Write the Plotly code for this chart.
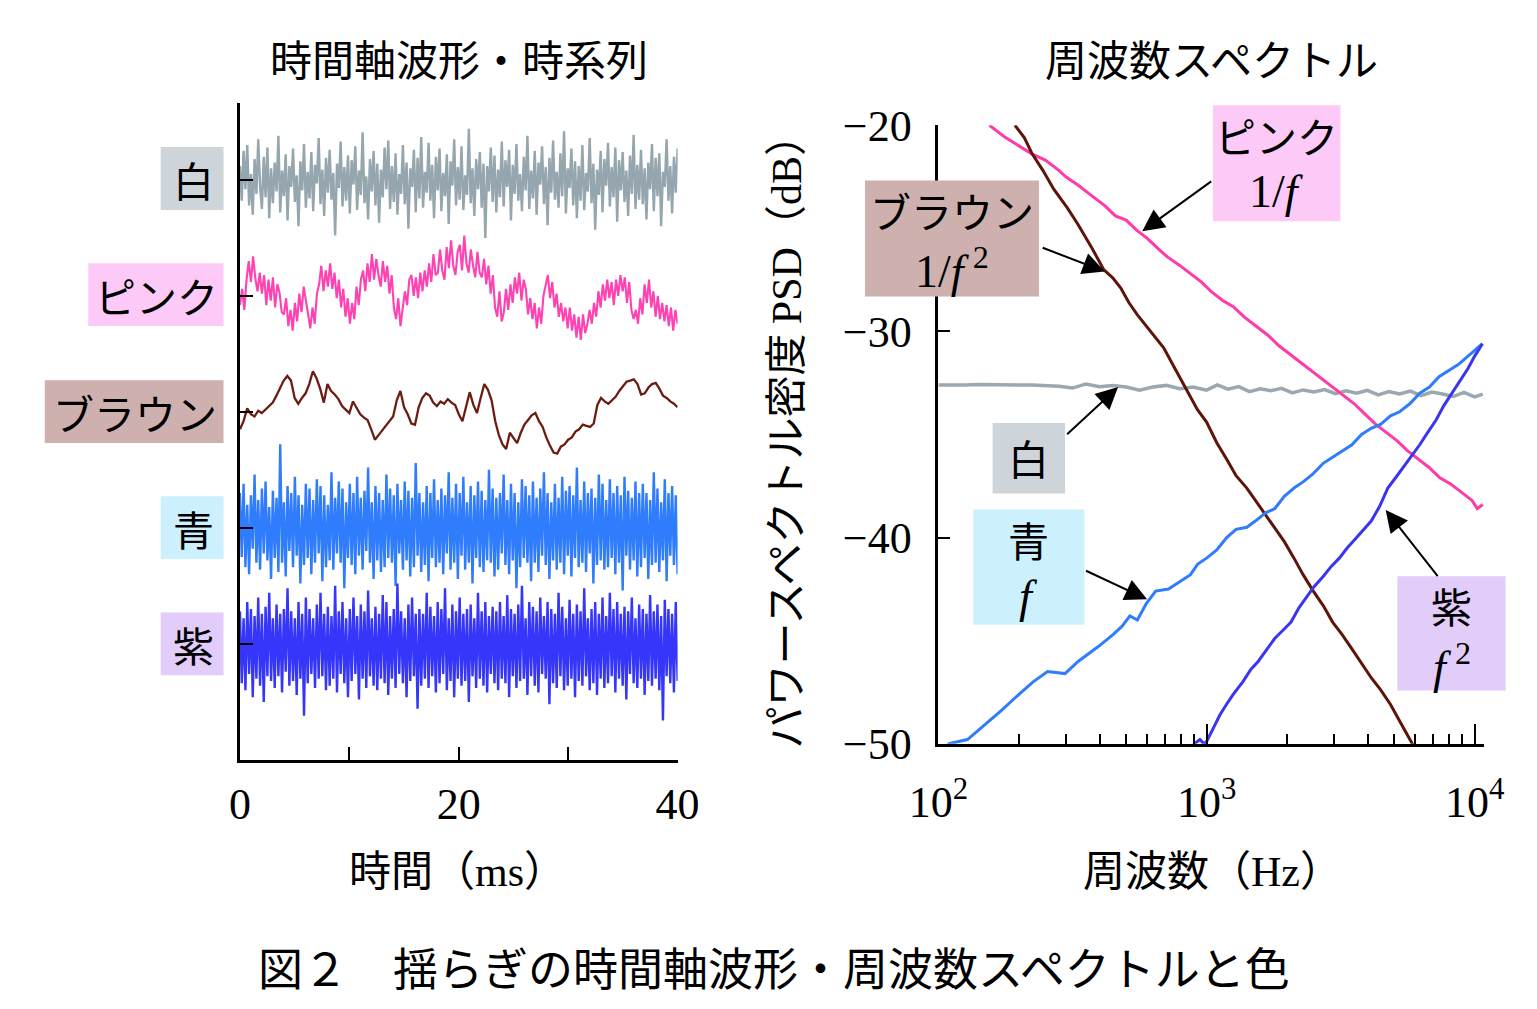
import numpy as np
import plotly.graph_objects as go

W, H = 1537, 1009


def px(x):
    return x / W


def py(y):
    return 1 - y / H


# ------------------------------------------------------------------ data
# left panel: stacked waveforms (values in hundredths of one row spacing)
names = ["白", "ピンク", "ブラウン", "青", "紫"]
row_level = [4, 3, 2, 1, 0]
t_range_ms = [0, 40]

white_wave = [
    12, -18, 25, -8, 30, -22, 5, -30, 18, -12, 35, -5, -25, 20, -15, 28, -33, 10, -20, 15,
    -10, 38, -28, 8, -14, 22, -35, 12, -6, 27, -19, 4, -40, 16, -9, 31, -24, 7, -16, 24,
    -27, 13, -3, 36, -21, 9, -31, 19, -11, 26, -17, 6, -48, 14, -7, 33, -23, 11, -18, 21,
    -29, 17, -4, 29, -26, 8, -13, 41, -20, 3, -34, 18, -10, 25, -22, 14, -37, 9, -15, 28,
    -8, 34, -25, 12, -19, 23, -30, 5, -12, 30, -21, 15, -42, 10, -6, 26, -28, 19, -16, 37,
    -24, 7, -11, 32, -18, 13, -33, 20, -9, 27, -27, 6, -14, 22, -38, 16, -5, 35, -22, 11,
    -17, 29, -26, 4, -13, 44, -20, 10, -31, 18, -8, 24, -24, 14, -50, 12, -10, 28, -19, 21,
    -28, 9, -15, 33, -23, 17, -6, 26, -35, 13, -12, 31, -18, 5, -27, 20, -9, 38, -25, 8,
    -16, 25, -30, 15, -4, 29, -21, 11, -39, 19, -11, 34, -17, 7, -24, 23, -14, 42, -29, 10,
    -7, 27, -22, 16, -33, 12, -18, 30, -26, 6, -10, 36, -20, 14, -43, 9, -13, 25, -28, 18,
    -5, 32, -23, 11, -15, 28, -36, 17, -9, 24, -19, 8, -31, 21, -12, 39, -25, 13, -17, 26,
    -21, 10, -34, 15, -8, 31, -27, 19, -14, 23, -40, 7, -6, 35, -18, 12, -29, 20, -11, 27,
]

pink_wave = [
    -8, 6, -12, 14, 30, 12, 34, 15, 4, 20,
    2, 18, -8, 14, -4, 16, -10, 10, 3, -14,
    -16, -2, -26, -12, -30, -6, -22, 2, -14, 8,
    -4, -18, -28, -10, -24, 2, 10, 26, 4, 22,
    8, 28, 6, 20, -2, 14, -10, 6, -18, -2,
    -24, -6, -20, 8, -8, 14, 22, 4, 28, 12,
    36, 14, 32, 18, 8, 30, 12, 26, 2, 18,
    -10, -20, -2, -26, -12, 4, -8, 14, 18, 0,
    16, -2, 20, 4, 22, 8, 28, 12, 36, 18,
    20, 40, 22, 14, 42, 24, 48, 26, 18, 38,
    44, 22, 52, 28, 20, 40, 26, 16, 38, 20,
    16, 32, 10, 26, 2, 18, -10, -18, 4, -22,
    -14, 6, -12, 10, -6, 16, 2, 20, -4, 14,
    6, -16, -2, -20, -6, -28, -10, -24, 0, 10,
    18, -2, 12, -10, 2, -18, -6, -22, -10, -28,
    -10, -30, -16, -36, -18, -38, -16, -32, -24, -12,
    -24, -6, -18, 4, -10, 10, -4, 14, -2, 12,
    -8, 14, 0, 18, 4, 16, -6, 12, -12, -20,
    -12, -24, -2, -16, 10, -6, 14, -10, 4, -18,
    0, -20, -6, -22, -8, -26, -10, -30, -12, -24,
]

brown_wave = [
    -15, -8, 3, -2, -4, 1, -1, 2, 5, 8, 14, 21, 27, 31, 27, 12, 7, 12, 16, 24,
    35, 29, 20, 8, 24, 18, 15, 11, 5, 2, -1, 9, 3, -2, -5, -7, -15, -24, -20, -16,
    -12, -8, -4, 10, 18, 4, -2, -10, -11, 4, 12, 16, 14, 8, 5, 9, 7, 11, 8, 6,
    -2, -8, 4, 17, 6, -1, 12, 24, 19, 10, -8, -20, -28, -32, -18, -23, -27, -18, -11, -7,
    -3, -1, -8, -13, -22, -29, -35, -36, -30, -28, -24, -22, -17, -15, -11, -12, -13, -10, 6, 12,
    9, 7, 10, 13, 18, 22, 26, 27, 28, 24, 15, 16, 21, 24, 25, 20, 14, 12, 9, 7,
    4,
]

blue_wave = [
    30, -25, 38, -34, 20, -40, 28, -18, 46, -30, 24, -36, 34, -22, 40, -28, 18, -44, 32, -26,
    26, -38, 72, -30, 22, -42, 36, -20, 30, -34, 44, -24, 28, -48, 20, -32, 38, -26, 34, -40,
    24, -30, 42, -22, 36, -46, 28, -34, 20, -28, 48, -36, 26, -22, 40, -30, 34, -52, 22, -26,
    38, -32, 30, -40, 44, -24, 26, -36, 32, -20, 52, -30, 22, -44, 36, -28, 30, -38, 24, -34,
    46, -26, 34, -30, 28, -50, 38, -22, 24, -36, 40, -28, 32, -42, 26, -34, 56, -24, 30, -38,
    22, -32, 36, -46, 30, -26, 42, -34, 24, -30, 34, -40, 28, -22, 48, -36, 26, -30, 38, -44,
    30, -24, 44, -36, 22, -30, 36, -48, 28, -26, 40, -34, 32, -38, 24, -28, 50, -30, 34, -42,
    26, -36, 30, -22, 46, -32, 24, -40, 38, -28, 30, -52, 22, -34, 42, -26, 36, -30, 28, -46,
    40, -30, 26, -38, 34, -24, 48, -32, 30, -44, 22, -28, 38, -36, 26, -30, 44, -40, 32, -24,
    36, -42, 28, -26, 52, -34, 24, -30, 40, -38, 30, -22, 34, -48, 26, -32, 46, -28, 38, -36,
    24, -34, 42, -26, 30, -40, 36, -30, 28, -54, 44, -24, 32, -36, 26, -28, 40, -42, 30, -34,
    38, -26, 30, -44, 24, -32, 48, -30, 34, -38, 22, -28, 42, -46, 30, -24, 36, -32, 28, -40,
]

purple_wave = [
    28, -34, 22, -40, 36, -26, 30, -46, 24, -30, 40, -36, 26, -50, 32, -28, 44, -32, 22, -38,
    34, -28, 26, -42, 30, -24, 48, -36, 28, -32, 22, -44, 36, -30, 26, -62, 40, -34, 30, -26,
    22, -38, 34, -30, 44, -28, 26, -40, 32, -36, 24, -30, 50, -42, 28, -26, 36, -34, 22, -46,
    30, -32, 40, -26, 24, -48, 34, -30, 28, -38, 46, -28, 22, -36, 32, -40, 26, -30, 42, -34,
    36, -44, 24, -30, 30, -38, 52, -26, 28, -34, 22, -46, 34, -32, 40, -28, 26, -56, 30, -36,
    26, -30, 44, -38, 32, -28, 24, -42, 36, -34, 30, -26, 48, -40, 22, -32, 34, -46, 28, -30,
    40, -36, 26, -32, 30, -50, 34, -28, 22, -38, 44, -30, 28, -36, 36, -42, 24, -26, 32, -34,
    28, -40, 36, -30, 24, -34, 42, -46, 30, -28, 26, -38, 34, -32, 50, -30, 22, -44, 36, -28,
    32, -36, 28, -42, 40, -26, 24, -30, 36, -52, 30, -34, 26, -38, 44, -28, 32, -40, 22, -36,
    38, -30, 26, -46, 34, -32, 28, -36, 48, -28, 22, -40, 30, -34, 36, -44, 26, -30, 40, -38,
    24, -34, 44, -28, 30, -42, 36, -30, 26, -36, 32, -48, 28, -26, 40, -34, 22, -38, 34, -30,
    30, -44, 26, -32, 42, -36, 28, -30, 34, -40, 24, -66, 38, -28, 30, -34, 26, -42, 36, -32,
]

waves = [white_wave, pink_wave, brown_wave, blue_wave, purple_wave]
wave_colors = ["#95a6af", "#ff42b2", "#6b1d12", "#2f7dfc", "#3636fa"]
wave_widths = [2.4, 2.1, 2.3, 2.4, 2.4]

# right panel: spectra (x = log10 of frequency in Hz, y = PSD in dB)
white_lf = [2.00, 2.05, 2.10, 2.15, 2.20, 2.25, 2.30, 2.35, 2.40, 2.45, 2.50, 2.55, 2.60,
            2.65, 2.70, 2.75, 2.80, 2.85, 2.90, 2.95, 3.00, 3.04, 3.08, 3.12, 3.16, 3.20,
            3.24, 3.28, 3.32, 3.36, 3.40, 3.44, 3.48, 3.52, 3.56, 3.60, 3.64, 3.68, 3.72,
            3.76, 3.80, 3.84, 3.88, 3.92, 3.96, 4.00, 4.03]
white_db = [-32.6, -32.62, -32.6, -32.58, -32.6, -32.62, -32.6, -32.6, -32.62, -32.66, -32.75,
            -32.55, -32.68, -32.62, -32.7, -32.85, -32.7, -32.62, -32.78, -32.7, -32.85, -32.6,
            -32.8, -32.68, -32.92, -32.78, -32.88, -32.76, -32.98, -32.84, -32.94, -32.82, -33.02,
            -32.88, -33.0, -32.86, -33.08, -32.92, -33.04, -32.9, -33.12, -32.94, -33.04, -33.16,
            -32.96, -33.18, -33.04]

pink_lf = [2.19, 2.25, 2.30, 2.35, 2.40, 2.45, 2.475, 2.52, 2.57, 2.62, 2.66, 2.70, 2.74,
           2.78, 2.82, 2.855, 2.90, 2.94, 2.98, 3.02, 3.06, 3.10, 3.14, 3.19, 3.23, 3.27,
           3.31, 3.35, 3.39, 3.43, 3.47, 3.51, 3.55, 3.59, 3.63, 3.67, 3.71, 3.75, 3.79,
           3.83, 3.87, 3.91, 3.95, 3.99, 4.01, 4.03]
pink_db = [-20.0, -20.6, -21.0, -21.4, -21.7, -22.2, -22.5, -22.9, -23.4, -23.9, -24.4,
           -24.6, -25.1, -25.5, -26.0, -26.4, -26.8, -27.2, -27.6, -28.1, -28.5, -28.8,
           -29.3, -29.8, -30.2, -30.7, -31.1, -31.5, -31.9, -32.3, -32.7, -33.1, -33.5,
           -34.0, -34.5, -34.9, -35.3, -35.8, -36.2, -36.6, -37.1, -37.4, -37.8, -38.2,
           -38.6, -38.4]

brown_lf = [2.285, 2.32, 2.35, 2.39, 2.43, 2.48, 2.52, 2.57, 2.616, 2.65, 2.68, 2.71, 2.742,
            2.79, 2.84, 2.886, 2.933, 2.966, 3.0, 3.038, 3.075, 3.11, 3.15, 3.182, 3.22,
            3.254, 3.29, 3.326, 3.36, 3.398, 3.435, 3.47, 3.505, 3.542, 3.578, 3.614, 3.65,
            3.686, 3.72, 3.759, 3.78]
brown_db = [-20.0, -20.6, -21.4, -22.2, -23.1, -24.0, -24.8, -25.9, -27.0, -27.4, -27.9,
            -28.6, -29.2, -30.0, -30.8, -31.9, -33.0, -33.8, -34.4, -35.4, -36.2, -37.0,
            -37.6, -38.2, -38.9, -39.5, -40.2, -41.0, -41.8, -42.6, -43.3, -44.1, -44.7,
            -45.4, -46.1, -46.8, -47.4, -48.1, -48.9, -49.8, -50.3]

blue_lf = [2.00, 2.04, 2.108, 2.173, 2.234, 2.292, 2.353, 2.407, 2.472, 2.522, 2.595, 2.652,
           2.685, 2.714, 2.742, 2.775, 2.81, 2.858, 2.905, 2.94, 2.966, 3.0, 3.038, 3.075,
           3.11, 3.15, 3.182, 3.22, 3.254, 3.29, 3.326, 3.36, 3.398, 3.435, 3.47, 3.505,
           3.542, 3.578, 3.614, 3.65, 3.686, 3.72, 3.759, 3.795, 3.831, 3.867, 3.903, 3.94,
           3.975, 4.0, 4.029]
blue_db = [-50.5, -50.0, -49.8, -49.1, -48.4, -47.7, -47.0, -46.5, -46.6, -46.0, -45.3,
           -44.7, -44.3, -43.8, -44.0, -43.2, -42.6, -42.5, -42.1, -41.8, -41.3, -41.0,
           -40.6, -40.0, -39.6, -39.5, -39.2, -38.8, -38.6, -38.0, -37.6, -37.3, -36.9,
           -36.4, -36.1, -35.8, -35.5, -35.0, -34.7, -34.5, -34.1, -33.9, -33.5, -33.0,
           -32.7, -32.2, -31.9, -31.6, -31.2, -30.9, -30.6]

purple_lf = [2.94, 2.955, 2.975, 2.99, 3.0, 3.027, 3.05, 3.074, 3.10, 3.135, 3.165, 3.193,
             3.225, 3.254, 3.285, 3.315, 3.345, 3.373, 3.40, 3.434, 3.465, 3.495, 3.525,
             3.553, 3.585, 3.614, 3.645, 3.676, 3.705, 3.733, 3.765, 3.795, 3.825, 3.856,
             3.885, 3.914, 3.945, 3.975, 4.0, 4.029]
purple_db = [-50.3, -50.0, -49.8, -50.0, -49.9, -49.2, -48.6, -48.1, -47.6, -47.0, -46.4,
             -46.0, -45.4, -44.9, -44.5, -44.1, -43.4, -42.9, -42.4, -41.9, -41.4, -41.0,
             -40.5, -40.1, -39.6, -39.2, -38.5, -37.6, -37.1, -36.6, -36.0, -35.5, -34.9,
             -34.3, -33.6, -33.0, -32.4, -31.8, -31.2, -30.6]

spectra = [
    (white_lf, white_db, "#9aa9b0", 3.5),
    (pink_lf, pink_db, "#ff3aa9", 3),
    (brown_lf, brown_db, "#5e1408", 3),
    (blue_lf, blue_db, "#2f7dfc", 3),
    (purple_lf, purple_db, "#3a36f0", 3),
]

y_ticks_db = [-50, -40, -30, -20]
x_major_hz = [100, 1000, 10000]
x_minor_hz = [200, 300, 400, 500, 600, 700, 800, 900,
              2000, 3000, 4000, 5000, 6000, 7000, 8000, 9000]

# ------------------------------------------------------------------ figure
fig = go.Figure()

for vals, col, lw, lev in zip(waves, wave_colors, wave_widths, row_level):
    v = np.array(vals, dtype=float) / 100.0
    t = np.linspace(t_range_ms[0], t_range_ms[1], len(v))
    fig.add_trace(go.Scatter(x=t, y=lev + v, mode="lines",
                             line=dict(color=col, width=lw),
                             xaxis="x", yaxis="y", hoverinfo="skip", showlegend=False))

for lf, db, col, lw in spectra:
    fig.add_trace(go.Scatter(x=10 ** np.array(lf), y=db, mode="lines",
                             line=dict(color=col, width=lw),
                             xaxis="x2", yaxis="y2", hoverinfo="skip", showlegend=False))

serif = "Liberation Serif"
cjk = "Noto Sans CJK JP"

axis_common = dict(showline=True, linewidth=3, linecolor="black", showgrid=False,
                   zeroline=False, ticks="inside", tickwidth=2, tickcolor="black")

fig.update_layout(
    width=W, height=H, margin=dict(l=0, r=0, t=0, b=0),
    paper_bgcolor="white", plot_bgcolor="rgba(0,0,0,0)", showlegend=False,
    xaxis=dict(domain=[px(209), px(662)], range=t_range_ms, anchor="y",
               tickvals=[0, 10, 20, 30, 40], ticktext=["0", " ", "20", " ", "40"],
               ticklen=13, ticklabelstandoff=3,
               tickfont=dict(family=serif, size=44, color="black"), **axis_common),
    yaxis=dict(domain=[py(765), py(75)], range=[-1.0, 4.66], anchor="x",
               tickvals=row_level, showticklabels=False, ticklen=13, **axis_common),
    xaxis2=dict(type="log", domain=[px(932), px(1497)], range=[2, 2 + 565 / 277.5],
                anchor="y2", tickvals=x_major_hz,
                ticktext=["10<sup>2</sup>", "10<sup>3</sup>", "10<sup>4</sup>"],
                ticklen=20, ticklabelstandoff=18,
                tickfont=dict(family=serif, size=44, color="black"),
                minor=dict(tickvals=x_minor_hz, ticks="inside", ticklen=10, tickwidth=2,
                           tickcolor="black", showgrid=False),
                **axis_common),
    yaxis2=dict(domain=[py(748), py(98)], range=[-50, -20], anchor="x2",
                tickvals=y_ticks_db, ticktext=["\u221250", "\u221240", "\u221230", "\u221220"],
                ticklen=12, ticklabelstandoff=15,
                tickfont=dict(family=serif, size=44, color="black"), **axis_common),
)

shapes = []
annotations = []


def box(x0, x1, y0, y1, color):
    shapes.append(dict(type="rect", xref="paper", yref="paper", x0=px(x0), x1=px(x1),
                       y0=py(y1), y1=py(y0), fillcolor=color, line=dict(width=0),
                       layer="above"))


def text(x, y, s, size=41, family=cjk, angle=0):
    annotations.append(dict(x=px(x), y=py(y), xref="paper", yref="paper", text=s,
                            showarrow=False, xanchor="center", yanchor="middle",
                            textangle=angle,
                            font=dict(family=family, size=size, color="black")))


# left labels
left_boxes = [(127, 192, "#cdd5da"), (52, 192, "#fdcaf8"), (7, 192, "#ceb0ae"),
              (127, 192, "#ccf0fd"), (127, 192, "#e1ccfa")]
row_centers = [154, 276, 399, 521, 643]
for (x0, x1, c), yc, nm in zip(left_boxes, row_centers, names):
    box(x0, x1, yc - 33, yc + 33, c)
    text((x0 + x1) / 2 + 1, yc, nm, size=41)

# right labels
box(1216, 1348, 77, 199, "#fdcaf8")
text(1282, 108, "ピンク", size=41)
text(1282, 168, "1/<i>f</i>", size=46, family=serif)

box(856, 1036, 156, 278, "#ceb0ae")
text(946, 187, "ブラウン", size=41)
text(946, 248, "1/<i>f</i>\u2009<sup>2</sup>", size=46, family=serif)

box(988, 1063, 411, 485, "#cdd5da")
text(1025, 447, "白", size=41)

box(968, 1083, 502, 623, "#ccf0fd")
text(1025, 533, "青", size=41)
text(1025, 593, "<i>f</i>", size=46, family=serif)

box(1407, 1519, 572, 692, "#e1ccfa")
text(1463, 602, "紫", size=41)
text(1463, 664, "<i>f</i>\u2009<sup>2</sup>", size=46, family=serif)

# arrows (tip at data point, tail offset in px)
arrows = [(2.760, -25.14, 72, -52), (2.620, -27.1, -65, -25), (2.670, -32.7, -54, 50),
          (2.778, -43.0, -64, -30), (3.668, -38.66, 55, 70)]
for lf, db, ax, ay in arrows:
    annotations.append(dict(x=lf, y=db, xref="x2", yref="y2", text=" ", showarrow=True,
                            ax=ax, ay=ay, arrowhead=2, arrowsize=2.2, arrowwidth=2,
                            arrowcolor="black", standoff=0))

# titles
text(436, 27, "時間軸波形・時系列", size=42)
text(1215, 27, "周波数スペクトル", size=42)
text(434, 878, "時間（<span style='font-family:Liberation Serif'>ms</span>）", size=42)
text(1216, 878, "周波数（<span style='font-family:Liberation Serif'>Hz</span>）", size=42)
text(771, 420, "パワースペクトル密度 <span style='font-family:Liberation Serif'>PSD</span>"
     "（<span style='font-family:Liberation Serif'>dB</span>）", size=42, angle=-90)
text(762, 982, "図２　揺らぎの時間軸波形・周波数スペクトルと色", size=45)

fig.update_layout(shapes=shapes, annotations=annotations)

fig.write_html("out.html")
